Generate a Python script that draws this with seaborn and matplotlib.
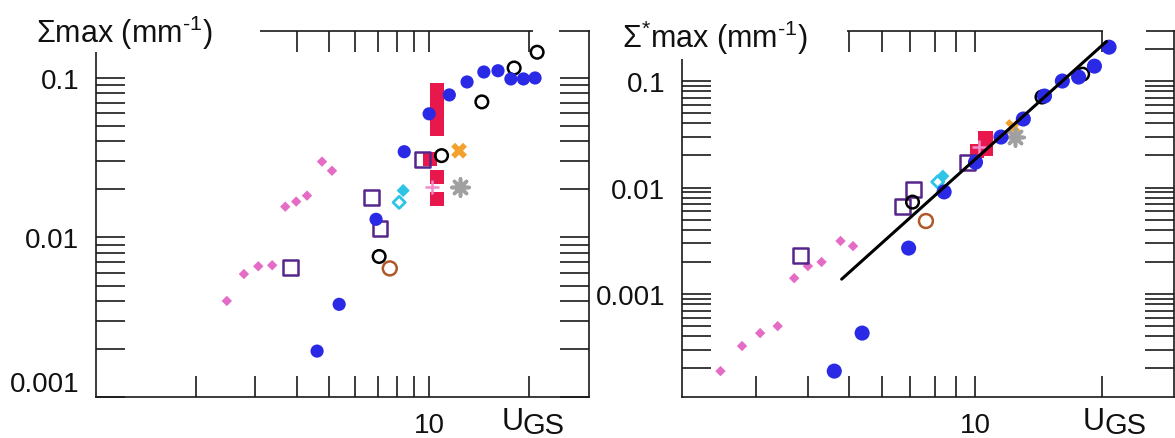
import matplotlib
matplotlib.use("Agg")
import matplotlib.pyplot as plt
import numpy as np
import pandas as pd
import seaborn as sns

from matplotlib.patches import Rectangle
from matplotlib.ticker import FixedLocator, FuncFormatter, LogLocator, NullFormatter

# ---- data ----
pink_x = [2.47, 2.78, 3.07, 3.38, 3.70, 3.99, 4.30, 4.77, 5.11]
pink_left = [0.0040, 0.0059, 0.0066, 0.0067, 0.0156, 0.0168, 0.0183, 0.0299, 0.0262]
pink_right = [0.000189, 0.000325, 0.00043, 0.0005, 0.00141, 0.00183, 0.0020, 0.00315, 0.00282]

blue_x = [4.61, 5.37, 6.93, 8.42, 10.0, 11.5, 13.0, 14.6, 16.1, 17.6, 19.2, 20.8]
blue_left = [0.00194, 0.00381, 0.0130, 0.0345, 0.0596, 0.0783, 0.0944, 0.109, 0.111, 0.0986, 0.0986, 0.100]
blue_right = [0.000189, 0.00043, 0.0027, 0.0091, 0.0173, 0.0298, 0.044, 0.0723, 0.100, 0.109, 0.138, 0.208]

red_x = [10.57, 10.57, 10.57, 10.57, 10.07, 10.57, 10.57]
red_left = [0.0841, 0.0688, 0.0570, 0.0480, 0.0312, 0.0240, 0.0175]
red_right = [0.029, 0.027, 0.025, 0.023, 0.022, 0.024, 0.026]

square_x = [3.83, 6.70, 7.12, 9.58]
square_left = [0.0065, 0.0178, 0.0114, 0.0307]
square_right = [0.00228, 0.0067, 0.0095, 0.0173]

ring_x = [7.08, 14.4, 18.0, 21.1, 10.9]
ring_left = [0.0076, 0.0708, 0.1155, 0.145, 0.0326]
ring_right_x = [7.08, 14.4, 18.0]
ring_right = [0.0073, 0.0708, 0.116]

brown_x = [7.62]
brown_left = [0.0064]
brown_right = [0.00485]

cyan_x = [8.36, 8.13]
cyan_left = [0.0197, 0.0166]
cyan_right = [0.0128, 0.0113]

orange_x = [12.3]
orange_left = [0.035]
orange_right = [0.037]

gray_x = [12.4]
gray_left = [0.0208]
gray_right = [0.0298]

plus_x = [10.2]
plus_left = [0.0208]
plus_right = [0.024]

fit_x = [4.8, 20.5]
fit_y = [0.00138, 0.235]

x_minor_left = [2, 3, 4, 5, 6, 7, 8, 9, 20]
x_minor_right = [3, 4, 5, 6, 7, 8, 9, 20]

sns.set_theme(style="white")
plt.rcParams["font.family"] = ["Liberation Sans", "DejaVu Sans"]
plt.rcParams["mathtext.fontset"] = "custom"
plt.rcParams["mathtext.rm"] = "Liberation Sans"
plt.rcParams["mathtext.it"] = "Liberation Sans"

W, H = 1175, 439
fig = plt.figure(figsize=(W / 100, H / 100), dpi=100)
fig.patch.set_facecolor("white")

bottom, top = 41 / H, 407 / H
ax1 = fig.add_axes([96 / W, bottom, (589 - 96) / W, top - bottom])
ax2 = fig.add_axes([682 / W, bottom, (1174 - 682) / W, top - bottom])


def draw_panel(ax, ys, rx, ry, big):
    pink_y, blue_y, red_y, sq_y, brown_y, cyan_y, orange_y, gray_y, plus_y = ys
    s_circ = 90 if not big else 118
    sns.scatterplot(x=red_x, y=red_y, marker="s", s=105, color="#e8174c", edgecolor="none", ax=ax, zorder=2)
    sns.scatterplot(x=pink_x, y=pink_y, marker="D", s=28, color="#e46cc6", edgecolor="none", ax=ax, zorder=2)
    sns.scatterplot(x=square_x, y=sq_y, marker="s", s=115, facecolor="none", edgecolor="#56258a",
                    linewidth=1.8, ax=ax, zorder=3)
    sns.scatterplot(x=rx, y=ry, marker="o", s=82, facecolor="none", edgecolor="black",
                    linewidth=1.8, ax=ax, zorder=3)
    sns.scatterplot(x=brown_x, y=brown_y, marker="o", s=100, facecolor="none", edgecolor="#b0582a",
                    linewidth=1.8, ax=ax, zorder=3)
    sns.scatterplot(x=cyan_x[:1], y=cyan_y[:1], marker="D", s=45, color="#2ec4e6", edgecolor="none", ax=ax, zorder=3)
    sns.scatterplot(x=cyan_x[1:], y=cyan_y[1:], marker="D", s=38, facecolor="none", edgecolor="#2ec4e6",
                    linewidth=2, ax=ax, zorder=3)
    sns.scatterplot(x=orange_x, y=orange_y, marker="X", s=130, color="#f4a02c", edgecolor="none", ax=ax, zorder=3)
    sns.scatterplot(x=gray_x, y=gray_y, marker=(8, 2, 0), s=150, color="#a0a0a0", edgecolor="#a0a0a0",
                    linewidth=2.6, ax=ax, zorder=3)
    sns.scatterplot(x=plus_x, y=plus_y, marker="+", s=100, color="#f08ccc", linewidth=1.8, ax=ax, zorder=4)
    sns.scatterplot(x=blue_x, y=blue_y, marker="o", s=s_circ, color="#2a2ae6", edgecolor="none", ax=ax, zorder=4)


draw_panel(ax1, (pink_left, blue_left, red_left, square_left, brown_left, cyan_left,
                 orange_left, gray_left, plus_left), ring_x, ring_left, False)
draw_panel(ax2, (pink_right, blue_right, red_right, square_right, brown_right, cyan_right,
                 orange_right, gray_right, plus_right), ring_right_x, ring_right, True)
sns.lineplot(x=fit_x, y=fit_y, color="black", linewidth=2.2, ax=ax2, zorder=5)

fmt = FuncFormatter(lambda v, _: f"{v:g}")
for ax, xlim, ylim, xminor in [(ax1, (1.0, 30.2), (0.001, 0.197), x_minor_left),
                               (ax2, (2.0, 29.7), (1.08e-4, 0.295), x_minor_right)]:
    ax.set_xscale("log")
    ax.set_yscale("log")
    ax.set_xlim(*xlim)
    ax.set_ylim(*ylim)
    ax.xaxis.set_major_locator(FixedLocator([10]))
    ax.xaxis.set_minor_locator(FixedLocator(xminor))
    ax.xaxis.set_major_formatter(FuncFormatter(lambda v, _: "10"))
    ax.xaxis.set_minor_formatter(NullFormatter())
    ax.yaxis.set_major_locator(FixedLocator([0.001, 0.01, 0.1]))
    ax.yaxis.set_minor_locator(LogLocator(base=10, subs=np.arange(2, 10)))
    ax.yaxis.set_major_formatter(fmt)
    ax.yaxis.set_minor_formatter(NullFormatter())
    ax.set_xlabel("")
    ax.set_ylabel("")
    ax.tick_params(axis="both", which="both", direction="in", top=True, right=True, bottom=True, left=True,
                   width=1.2, color="#1a1a1a", labelsize=20, labelcolor="#111111")
    ax.tick_params(axis="y", which="both", length=21, pad=12)
    ax.tick_params(axis="x", which="both", length=15, pad=11)
    for sp in ax.spines.values():
        sp.set_visible(True)
        sp.set_color("#1a1a1a")
        sp.set_linewidth(1.2)
    ax.set_facecolor("white")
    ax.grid(False)

ax1.yaxis.get_major_ticks()[0].label1.set_va("bottom")

# label backgrounds hide part of the frame, like in the original
white = dict(transform=fig.transFigure, facecolor="white", edgecolor="none", zorder=1)
fig.patches.append(Rectangle((0, 1 - 53 / H), 260 / W, 53 / H, **white))
fig.patches.append(Rectangle((592 / W, 1 - 60 / H), (847 - 592) / W, 60 / H, **white))
# small breaks in the top frame line near the right corners
fig.patches.append(Rectangle((533 / W, 1 - 35 / H), (559 - 533) / W, 6 / H, **white))
fig.patches.append(Rectangle((1103 / W, 1 - 35 / H), (1146 - 1103) / W, 6 / H, **white))

fig.text(36 / W, 1 - 43 / H, r"$\Sigma$max (mm$^{\text{-1}}$)", fontsize=22, va="baseline", ha="left", color="#111111")
fig.text(622 / W, 1 - 48 / H, r"$\Sigma^{*}$max (mm$^{\text{-1}}$)", fontsize=22, va="baseline", ha="left", color="#111111")

for ux in (502, 1083):
    fig.text(ux / W, 1 - 430 / H, "U", fontsize=22, va="baseline", ha="left", color="#111111")
    fig.text((ux + 21) / W, 1 - 434 / H, "GS", fontsize=21, va="baseline", ha="left", color="#111111")

fig.savefig("out.png", dpi=100, facecolor="white")
